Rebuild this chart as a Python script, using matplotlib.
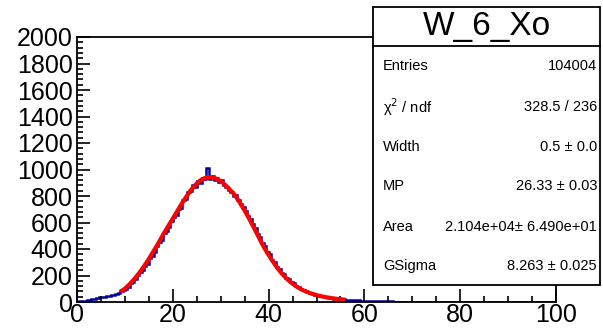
import numpy as np
import matplotlib
matplotlib.use('Agg')
import matplotlib.pyplot as plt

plt.rcParams['font.family'] = ['Liberation Sans', 'DejaVu Sans']

# histogram contents, 200 bins of width 0.5 from 0 to 100
counts = [
    3, 5, 8, 10, 12, 16, 20, 22, 28, 35,
    40, 38, 45, 42, 52, 55, 62, 70, 82, 88,
    98, 112, 140, 150, 170, 205, 225, 240, 275, 290,
    330, 350, 380, 425, 450, 470, 520, 535, 565, 610,
    640, 660, 700, 710, 770, 780, 830, 835, 880, 870,
    910, 900, 935, 925, 1010, 930, 950, 920, 935, 905,
    920, 880, 870, 845, 830, 800, 810, 770, 740, 720,
    690, 650, 630, 585, 560, 515, 490, 445, 420, 380,
    360, 320, 305, 265, 250, 220, 210, 180, 170, 148,
    140, 118, 112, 98, 94, 80, 76, 66, 62, 54,
    50, 46, 42, 37, 36, 31, 30, 26, 25, 22,
    21, 19, 18, 16, 15, 14, 13, 12, 11, 10,
    9, 9, 8, 7, 7, 6, 6, 5, 5, 4,
    4, 4, 3, 3, 3, 2, 3, 2, 2, 2,
    2, 1, 2, 1, 2, 1, 1, 1, 1, 0,
    1, 1, 0, 1, 0, 0, 1, 0, 0, 0,
    1, 0, 0, 0, 0, 0, 0, 0, 0, 0,
    0, 0, 0, 0, 0, 0, 0, 0, 0, 0,
    0, 0, 0, 0, 0, 0, 0, 0, 0, 0,
    0, 0, 0, 0, 0, 0, 0, 0, 0, 0,
]
bin_lo, bin_hi = 0, 100

# fitted Landau x Gauss curve, sampled
fit_x = [9, 10, 11, 12, 13, 14, 15, 16, 17, 18, 19, 20, 21, 22, 23, 24, 25,
         26, 27, 28, 29, 30, 31, 32, 33, 34, 35, 36, 37, 38, 39, 40, 41, 42,
         43, 44, 45, 46, 47, 48, 49, 50, 51, 52, 53, 54, 55, 56]
fit_y = [78, 100, 135, 175, 220, 270, 325, 385, 445, 510, 570, 630, 690, 750,
         805, 855, 895, 925, 940, 942, 932, 912, 882, 845, 805, 750, 690, 625,
         555, 485, 415, 355, 300, 248, 205, 168, 138, 113, 92, 76, 63, 52, 43,
         36, 30, 25, 21, 18]

title = 'W_6_Xo'
stat_names = ['Entries', 'χ$^{2}$ / ndf', 'Width', 'MP', 'Area', 'GSigma']
stat_values = ['104004', '328.5 / 236', '0.5 ± 0.0', '26.33 ± 0.03',
               '2.104e+04± 6.490e+01', '8.263 ± 0.025']

W, H = 603, 332
fig = plt.figure(figsize=(W / 100, H / 100), dpi=100)
ax = fig.add_axes([77 / W, (H - 302) / H, (556 - 77) / W, (302 - 37) / H])

edges = np.linspace(bin_lo, bin_hi, len(counts) + 1)
ax.stairs(counts, edges, color='#000099', lw=1.8)
ax.plot(fit_x, fit_y, color='#ff0000', lw=3, solid_capstyle='butt')

ax.set_xlim(0, 100)
ax.set_ylim(0, 2000)
ax.set_xticks(range(0, 101, 20))
ax.set_xticks(range(0, 101, 5), minor=True)
ax.set_yticks(range(0, 2001, 200))
ax.set_yticks(range(0, 2001, 40), minor=True)
ax.tick_params(which='both', direction='in', top=False, right=False,
               labelsize=18, width=1.2)
ax.tick_params(which='major', length=9.5)
ax.tick_params(which='minor', length=4.5)
ax.tick_params(axis='y', pad=3)
ax.tick_params(axis='x', pad=1)
for s in ax.spines.values():
    s.set_linewidth(1.3)

# stats box
bx0, bx1, by0, by1, byt = 373, 600, 285, 7, 46
def fx(px):
    return px / W
def fy(py):
    return 1 - py / H
fig.patches.append(plt.Rectangle((fx(bx0), fy(by0)), fx(bx1) - fx(bx0),
                                 fy(by1) - fy(by0), transform=fig.transFigure,
                                 facecolor='white', edgecolor='black', lw=1.3,
                                 zorder=5))
fig.add_artist(plt.Line2D([fx(bx0), fx(bx1)], [fy(byt), fy(byt)],
                          transform=fig.transFigure, color='black', lw=1.3,
                          zorder=6))
fig.text(fx((bx0 + bx1) / 2), fy(27), title, ha='center', va='center',
         fontsize=24, zorder=7)
rows_y = [66, 107, 147, 186, 227, 266]
for name, val, ry in zip(stat_names, stat_values, rows_y):
    fig.text(fx(383), fy(ry), name, ha='left', va='center', fontsize=10.5,
             zorder=7)
    fig.text(fx(597), fy(ry), val, ha='right', va='center', fontsize=10.5,
             zorder=7)

fig.savefig('out.png', dpi=100)
